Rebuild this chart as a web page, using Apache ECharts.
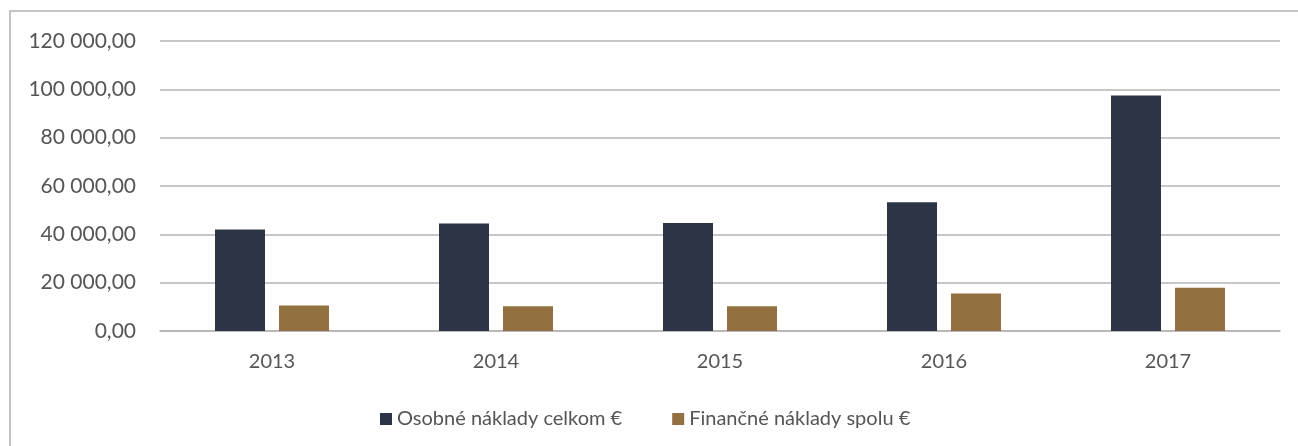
<!DOCTYPE html>
<html>
<head>
<meta charset="utf-8">
<script src="https://cdn.jsdelivr.net/npm/echarts@6/dist/echarts.min.js"></script>
<style>
  html, body { margin: 0; padding: 0; background: #fff; }
  #frame { position: absolute; left: 9px; top: 10px; width: 1400px; height: 500px;
    border-left: 2px solid #c4c4c4; border-top: 2px solid #c4c4c4; }
  #chart { position: absolute; left: 0; top: 0; width: 1298px; height: 446px; }
</style>
</head>
<body>
<div id="frame"></div>
<div id="chart"></div>
<script>
let years = ['2013', '2014', '2015', '2016', '2017']
let osobne = [42000, 44500, 44700, 53300, 97500]
let financne = [10600, 10200, 10200, 15500, 17900]
let seriesNames = ['Osobné náklady celkom €', 'Finančné náklady spolu €']

// 120 000,00 style
function fmt(v) {
  let s = Math.round(v).toString().replace(/\B(?=(\d{3})+(?!\d))/g, ' ')
  return s + ',00'
}

let myChart = echarts.init(document.getElementById('chart'))
let font = 'Lato, "Open Sans", sans-serif'
let option = {
  animation: false,
  color: ['#2c3446', '#93703f'],
  grid: {left: 160, right: 18, top: 41, bottom: 115},
  legend: {
    top: 404,
    left: 375,
    itemWidth: 12,
    itemHeight: 12,
    itemGap: 50,
    icon: 'rect',
    textStyle: {fontFamily: font, fontSize: 20, color: '#555'},
    data: seriesNames
  },
  xAxis: {
    type: 'category',
    data: years,
    axisLine: {lineStyle: {color: '#b4b4b4', width: 1.5}},
    axisTick: {show: false},
    axisLabel: {fontFamily: font, fontSize: 20, color: '#555', margin: 21}
  },
  yAxis: {
    type: 'value',
    min: 0,
    max: 120000,
    interval: 20000,
    axisLine: {show: false},
    axisTick: {show: false},
    splitLine: {lineStyle: {color: '#b4b4b4', width: 1.5}},
    axisLabel: {fontFamily: font, fontSize: 21, color: '#555', margin: 24, formatter: fmt}
  },
  series: [
    {name: seriesNames[0], type: 'bar', data: osobne, barWidth: 50, barGap: '28%'},
    {name: seriesNames[1], type: 'bar', data: financne, barWidth: 50, barGap: '28%'}
  ]
}
myChart.setOption(option)
</script>
</body>
</html>
